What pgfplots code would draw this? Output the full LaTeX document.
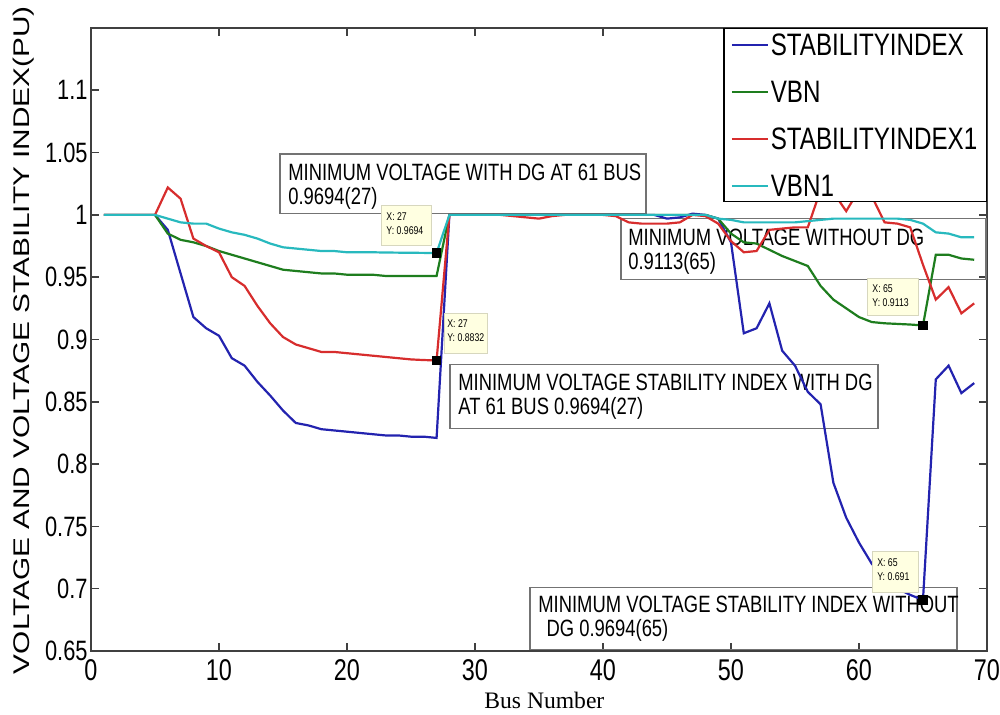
\documentclass[border=0pt]{standalone}
\usepackage{fontspec}
\setmainfont{Liberation Sans}[FakeStretch=0.78]
\newfontfamily\plainsans{Liberation Sans}
\newfontfamily\serifx{Liberation Serif}
\usepackage{graphicx}
\usepackage{pgfplots}
\pgfplotsset{compat=1.18}

\definecolor{mblue}{RGB}{35,35,175}
\definecolor{mgreen}{RGB}{30,125,30}
\definecolor{mred}{RGB}{215,45,45}
\definecolor{mcyan}{RGB}{40,185,190}
\definecolor{tipfill}{RGB}{255,255,225}
\definecolor{tipedge}{RGB}{215,215,190}

% bus, stability index, VBN, stability index with DG, VBN with DG
\pgfplotstableread{
bus si vbn si1 vbn1
1 1.000 1.000 1.000 1.000
2 1.000 1.000 1.000 1.000
3 1.000 1.000 1.000 1.000
4 1.000 1.000 1.000 1.000
5 1.000 1.000 1.000 1.000
6 0.988 0.985 1.022 0.997
7 0.953 0.980 1.013 0.994
8 0.918 0.978 0.981 0.993
9 0.909 0.975 0.975 0.993
10 0.903 0.971 0.970 0.989
11 0.885 0.968 0.950 0.986
12 0.879 0.965 0.943 0.984
13 0.866 0.962 0.927 0.981
14 0.855 0.959 0.913 0.977
15 0.843 0.956 0.902 0.974
16 0.833 0.955 0.896 0.973
17 0.831 0.954 0.893 0.972
18 0.828 0.953 0.890 0.971
19 0.827 0.953 0.890 0.971
20 0.826 0.952 0.889 0.970
21 0.825 0.952 0.888 0.970
22 0.824 0.952 0.887 0.970
23 0.823 0.951 0.886 0.9698
24 0.823 0.951 0.885 0.9697
25 0.822 0.951 0.884 0.9696
26 0.822 0.951 0.8835 0.9695
27 0.821 0.951 0.8832 0.9694
28 1.000 1.000 1.000 1.000
29 1.000 1.000 1.000 1.000
30 1.000 1.000 1.000 1.000
31 1.000 1.000 1.000 1.000
32 1.000 1.000 1.000 1.000
33 1.000 1.000 0.999 1.000
34 1.000 1.000 0.998 1.000
35 1.000 1.000 0.997 1.000
36 1.000 1.000 0.999 1.000
37 1.000 1.000 1.000 1.000
38 1.000 1.000 1.000 1.000
39 1.000 1.000 1.000 1.000
40 1.000 1.000 1.000 1.000
41 1.000 1.000 0.999 1.000
42 1.000 1.000 0.994 1.000
43 1.000 1.000 0.993 1.000
44 1.000 1.000 0.993 1.000
45 0.997 1.000 0.993 1.000
46 0.998 1.000 0.994 1.000
47 1.001 1.000 1.000 1.000
48 1.000 1.000 0.999 1.000
49 0.997 0.997 0.993 0.997
50 0.978 0.985 0.979 0.996
51 0.905 0.978 0.970 0.994
52 0.909 0.977 0.971 0.994
53 0.929 0.972 0.988 0.994
54 0.891 0.967 0.989 0.994
55 0.879 0.963 0.990 0.994
56 0.858 0.959 0.990 0.995
57 0.848 0.943 1.020 0.996
58 0.785 0.932 1.018 0.997
59 0.757 0.925 1.003 0.997
60 0.737 0.918 1.020 0.997
61 0.720 0.914 1.015 0.997
62 0.708 0.913 0.994 0.997
63 0.700 0.9125 0.993 0.997
64 0.695 0.912 0.990 0.996
65 0.691 0.9113 0.960 0.993
66 0.868 0.968 0.932 0.986
67 0.879 0.968 0.942 0.985
68 0.857 0.965 0.921 0.982
69 0.865 0.964 0.929 0.982
}\busdata

\begin{document}
\begin{tikzpicture}
\begin{axis}[
    scale only axis,
    width=448pt, height=311.5pt,
    xmin=0, xmax=70, ymin=0.65, ymax=1.15,
    xtick={0,10,20,30,40,50,60,70},
    ytick={0.65,0.7,0.75,0.8,0.85,0.9,0.95,1,1.05,1.1},
    /pgf/number format/assume math mode=true,
    xticklabel style={font=\fontsize{15}{15}\selectfont, inner xsep=0pt, yshift=-1pt},
    yticklabel style={font=\fontsize{14}{14}\selectfont, inner xsep=1.5pt},
    axis line style={draw=black!75, line width=1pt},
    major tick length=4pt,
    every tick/.style={draw=black!75, line width=0.8pt},
    xlabel={\serifx\fontsize{11.8}{12}\selectfont Bus Number},
    xlabel style={at={(axis description cs:0.506,-0.0787)}, anchor=center, inner sep=0pt},
    ylabel={\scalebox{1}[0.76]{\plainsans\fontsize{14.9}{16}\selectfont VOLTAGE AND VOLTAGE STABILITY INDEX(PU)}},
    ylabel style={at={(axis description cs:-0.0753,0.499)}, anchor=center, inner sep=0pt},
    legend style={at={(rel axis cs:1,1)}, anchor=north east,
        draw=black, line width=0.7pt, fill=white,
        font=\fontsize{15.5}{15.5}\selectfont,
        inner xsep=3.5pt, inner ysep=1.5pt, row sep=10.5pt,
        nodes={inner sep=1pt, text height=11pt, text depth=0pt}},
    legend cell align=left,
    legend image code/.code={\draw[#1, line width=1pt] (0pt,0pt) -- (18pt,0pt);},
    every axis plot/.append style={line width=1.1pt},
]
\coordinate (sw) at (rel axis cs:0,0);
\coordinate (ne) at (rel axis cs:1,1);

% text boxes (lines run across them)
\draw[black!55, line width=0.6pt] (axis cs:14.77,1.0488) rectangle (axis cs:43.36,1.0008);
\node[anchor=north west, inner sep=0pt, align=left, font=\fontsize{11.8}{12}\selectfont]
  at (axis cs:15.39,1.0408) {MINIMUM VOLTAGE WITH DG AT 61 BUS\\0.9694(27)};
\draw[black!55, line width=0.6pt] (axis cs:41.41,0.9968) rectangle (axis cs:69.92,0.9480);
\node[anchor=north west, inner sep=0pt, align=left, font=\fontsize{11.8}{12}\selectfont]
  at (axis cs:41.95,0.9888) {MINIMUM VOLTAGE WITHOUT DG\\0.9113(65)};
\draw[black!55, line width=0.6pt] (axis cs:28.05,0.8800) rectangle (axis cs:61.48,0.8288);
\node[anchor=north west, inner sep=0pt, align=left, font=\fontsize{11.8}{12}\selectfont]
  at (axis cs:28.67,0.8725) {MINIMUM VOLTAGE STABILITY INDEX WITH DG\\AT 61 BUS 0.9694(27)};
\draw[black!55, line width=0.6pt] (axis cs:34.30,0.7008) rectangle (axis cs:67.66,0.6512);
\node[anchor=north west, inner sep=0pt, align=left, font=\fontsize{11.8}{12}\selectfont]
  at (axis cs:34.92,0.6944) {MINIMUM VOLTAGE STABILITY INDEX WITHOUT\\\hspace{0.35em}DG 0.9694(65)};

\addplot[mblue] table[x=bus, y=si] {\busdata};
\addlegendentry{STABILITYINDEX}
\addplot[mgreen] table[x=bus, y=vbn] {\busdata};
\addlegendentry{VBN}
\addplot[mred] table[x=bus, y=si1] {\busdata};
\addlegendentry{STABILITYINDEX1}
\addplot[mcyan] table[x=bus, y=vbn1] {\busdata};
\addlegendentry{VBN1}

% data tips
\draw[tipedge, fill=tipfill, line width=0.5pt] (axis cs:22.73,1.0072) rectangle (axis cs:26.64,0.9752);
\node[anchor=north west, inner sep=0pt, align=left, font=\fontsize{5.6}{7}\selectfont]
  at (axis cs:23.05,1.0024) {X: 27\\Y: 0.9694};
\draw[tipedge, fill=tipfill, line width=0.5pt] (axis cs:27.58,0.9208) rectangle (axis cs:30.94,0.8888);
\node[anchor=north west, inner sep=0pt, align=left, font=\fontsize{5.6}{7}\selectfont]
  at (axis cs:27.81,0.9160) {X: 27\\Y: 0.8832};
\draw[tipedge, fill=tipfill, line width=0.5pt] (axis cs:60.70,0.9488) rectangle (axis cs:64.61,0.9192);
\node[anchor=north west, inner sep=0pt, align=left, font=\fontsize{5.6}{7}\selectfont]
  at (axis cs:61.02,0.9440) {X: 65\\Y: 0.9113};
\draw[tipedge, fill=tipfill, line width=0.5pt] (axis cs:61.09,0.7296) rectangle (axis cs:64.61,0.6968);
\node[anchor=north west, inner sep=0pt, align=left, font=\fontsize{5.6}{7}\selectfont]
  at (axis cs:61.40,0.7248) {X: 65\\Y: 0.691};

\addplot[only marks, mark=square*, mark size=1.9pt, black, forget plot]
  coordinates {(27,0.9694) (27,0.8832) (65,0.9113) (65,0.691)};
\end{axis}
\path ([shift={(-45.5pt,-32pt)}]sw) rectangle ([shift={(6.5pt,14pt)}]ne);
\end{tikzpicture}
\end{document}
